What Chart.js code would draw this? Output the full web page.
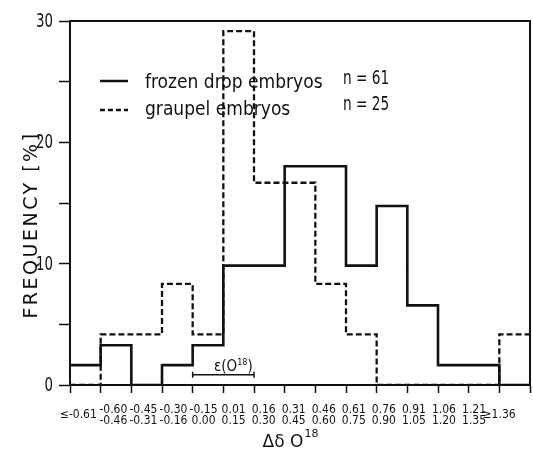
<!DOCTYPE html>
<html>
<head>
<meta charset="utf-8">
<script src="https://cdn.jsdelivr.net/npm/chart.js@4.4.1/dist/chart.umd.min.js"></script>
<style>
  html, body { margin: 0; padding: 0; background: #fff; }
  #wrap { width: 533px; height: 466px; }
</style>
</head>
<body>
<div id="wrap"><canvas id="histChart" width="533" height="466"></canvas></div>
<script>
// Bin labels (two lines per bin, the end bins are open-ended)
const binLabelsTop = ['≤-0.61', '-0.60', '-0.45', '-0.30', '-0.15', '0.01', '0.16', '0.31', '0.46', '0.61', '0.76', '0.91', '1.06', '1.21', '≥1.36'];
const binLabelsBottom = ['', '-0.46', '-0.31', '-0.16', '0.00', '0.15', '0.30', '0.45', '0.60', '0.75', '0.90', '1.05', '1.20', '1.35', ''];

// Frequency [%] per bin
const frozenDrop = [1.64, 3.28, 0, 1.64, 3.28, 9.84, 9.84, 18.03, 18.03, 9.84, 14.75, 6.56, 1.64, 1.64, 0];
const graupel = [0, 4.17, 4.17, 8.33, 4.17, 29.17, 16.67, 16.67, 8.33, 4.17, 0, 0, 0, 0, 4.17];

// y axis: labelled ticks and minor ticks
const yTickLabels = [0, 10, 20, 30];
const yMinorTicks = [5, 15, 25];

const seriesNames = ['frozen drop embryos', 'graupel embryos'];
const seriesCounts = ['n = 61', 'n = 25'];

// Error bar of one measurement, in bin units / percent
const errorBarFrom = 4;
const errorBarTo = 6;
const errorBarLevel = 0.85;

const INK = '#111';
const NARROW = '"DejaVu Sans Condensed", "DejaVu Sans", sans-serif';

/**
 * Turn per-bin values into step points on bin edges
 */
function toSteps(values) {
  const pts = values.map((v, i) => ({ x: i, y: v }));
  pts.push({ x: values.length, y: values[values.length - 1] });
  return pts;
}

/**
 * Draw text squeezed horizontally (the original uses a narrow plotter font)
 */
function narrowText(ctx, text, x, y, squeeze, align) {
  ctx.save();
  ctx.translate(x, y);
  ctx.scale(squeeze, 1);
  ctx.textAlign = align || 'left';
  ctx.fillText(text, 0, 0);
  ctx.restore();
}

/**
 * Frame, legend, tick labels and axis titles
 */
const decorPlugin = {
  id: 'decor',
  afterDraw(chart) {
    const { ctx, chartArea: a, scales } = chart;
    const xs = scales.x;
    const ys = scales.y;
    ctx.save();
    ctx.strokeStyle = INK;
    ctx.fillStyle = INK;

    // frame
    ctx.lineWidth = 2;
    ctx.strokeRect(a.left, a.top, a.right - a.left, a.bottom - a.top);

    // y tick labels
    ctx.font = '19px ' + NARROW;
    ctx.textBaseline = 'middle';
    yTickLabels.forEach((v) => {
      narrowText(ctx, String(v), a.left - 17, ys.getPixelForValue(v) + 1, 0.78, 'right');
    });

    // bin labels (typed slightly tighter than the bins)
    ctx.font = '12px ' + NARROW;
    ctx.textAlign = 'center';
    ctx.textBaseline = 'middle';
    binLabelsTop.forEach((label, i) => {
      const cx = xs.getPixelForValue(0.5 + i * 0.98) - 2;
      if (binLabelsBottom[i]) {
        ctx.fillText(label, cx, a.bottom + 25);
        ctx.fillText(binLabelsBottom[i], cx, a.bottom + 36);
      } else {
        ctx.fillText(label, cx - 5, a.bottom + 30);
      }
    });

    // x title
    ctx.font = '17px "DejaVu Sans", sans-serif';
    ctx.textAlign = 'left';
    ctx.textBaseline = 'alphabetic';
    const xt = 'Δδ O';
    const xtw = ctx.measureText(xt).width;
    const xtLeft = 283 - xtw / 2;
    ctx.fillText(xt, xtLeft, 447);
    ctx.font = '11px "DejaVu Sans", sans-serif';
    ctx.fillText('18', xtLeft + xtw + 1, 437);

    // y title
    ctx.save();
    ctx.translate(32, 225);
    ctx.rotate(-Math.PI / 2);
    ctx.font = '19px "DejaVu Sans", sans-serif';
    ctx.letterSpacing = '2.5px';
    ctx.textAlign = 'center';
    ctx.textBaseline = 'middle';
    ctx.fillText('FREQUENCY [%]', 0, 0);
    ctx.restore();

    // legend
    ctx.lineWidth = 2.5;
    ctx.beginPath();
    ctx.moveTo(100, 81);
    ctx.lineTo(128, 81);
    ctx.stroke();
    ctx.setLineDash([5, 3]);
    ctx.beginPath();
    ctx.moveTo(100, 110);
    ctx.lineTo(128, 110);
    ctx.stroke();
    ctx.setLineDash([]);
    ctx.font = '19px ' + NARROW;
    ctx.textAlign = 'left';
    ctx.fillText(seriesNames[0], 145, 88);
    ctx.fillText(seriesNames[1], 145, 115);
    narrowText(ctx, seriesCounts[0], 343, 84, 0.8);
    narrowText(ctx, seriesCounts[1], 343, 110, 0.8);

    // error bar annotation
    const ex0 = xs.getPixelForValue(errorBarFrom);
    const ex1 = xs.getPixelForValue(errorBarTo);
    const ey = ys.getPixelForValue(errorBarLevel);
    ctx.lineWidth = 1.5;
    ctx.beginPath();
    ctx.moveTo(ex0, ey);
    ctx.lineTo(ex1, ey);
    ctx.moveTo(ex0, ey - 3);
    ctx.lineTo(ex0, ey + 3);
    ctx.moveTo(ex1, ey - 3);
    ctx.lineTo(ex1, ey + 3);
    ctx.stroke();
    ctx.font = '15px ' + NARROW;
    const et = 'ε(O';
    ctx.fillText(et, 214, ey - 4);
    const etw = ctx.measureText(et).width;
    ctx.font = '9px ' + NARROW;
    ctx.fillText('18', 214 + etw, ey - 10);
    const sw = ctx.measureText('18').width;
    ctx.font = '15px ' + NARROW;
    ctx.fillText(')', 214 + etw + sw, ey - 4);

    ctx.restore();
  }
};

const ctx = document.getElementById('histChart').getContext('2d');
new Chart(ctx, {
  type: 'line',
  data: {
    datasets: [
      {
        label: seriesNames[0],
        data: toSteps(frozenDrop),
        stepped: 'before',
        borderColor: INK,
        borderWidth: 2.6,
        pointRadius: 0,
        fill: false
      },
      {
        label: seriesNames[1],
        data: toSteps(graupel),
        stepped: 'before',
        borderColor: INK,
        borderWidth: 2.3,
        borderDash: [6, 3],
        pointRadius: 0,
        fill: false
      }
    ]
  },
  options: {
    responsive: false,
    animation: false,
    layout: { padding: { top: 21, right: 2, left: 0, bottom: 0 } },
    plugins: {
      legend: { display: false },
      tooltip: { enabled: false }
    },
    scales: {
      x: {
        type: 'linear',
        min: 0,
        max: binLabelsTop.length,
        afterFit: (scale) => { scale.height = 81; },
        ticks: {
          stepSize: 1,
          callback: () => ''
        },
        grid: {
          drawOnChartArea: false,
          tickLength: 8,
          tickWidth: 1.5,
          tickColor: INK
        },
        border: { color: INK, width: 2 }
      },
      y: {
        min: 0,
        max: 30,
        afterFit: (scale) => { scale.width = 70; },
        afterBuildTicks: (scale) => {
          scale.ticks = yTickLabels.concat(yMinorTicks)
            .sort((p, q) => p - q)
            .map((v) => ({ value: v }));
        },
        ticks: {
          // labels are drawn squeezed by the decor plugin
          callback: () => ''
        },
        grid: {
          drawOnChartArea: false,
          tickLength: 11,
          tickWidth: 1.5,
          tickColor: INK
        },
        border: { color: INK, width: 2 }
      }
    }
  },
  plugins: [decorPlugin]
});
</script>
</body>
</html>
